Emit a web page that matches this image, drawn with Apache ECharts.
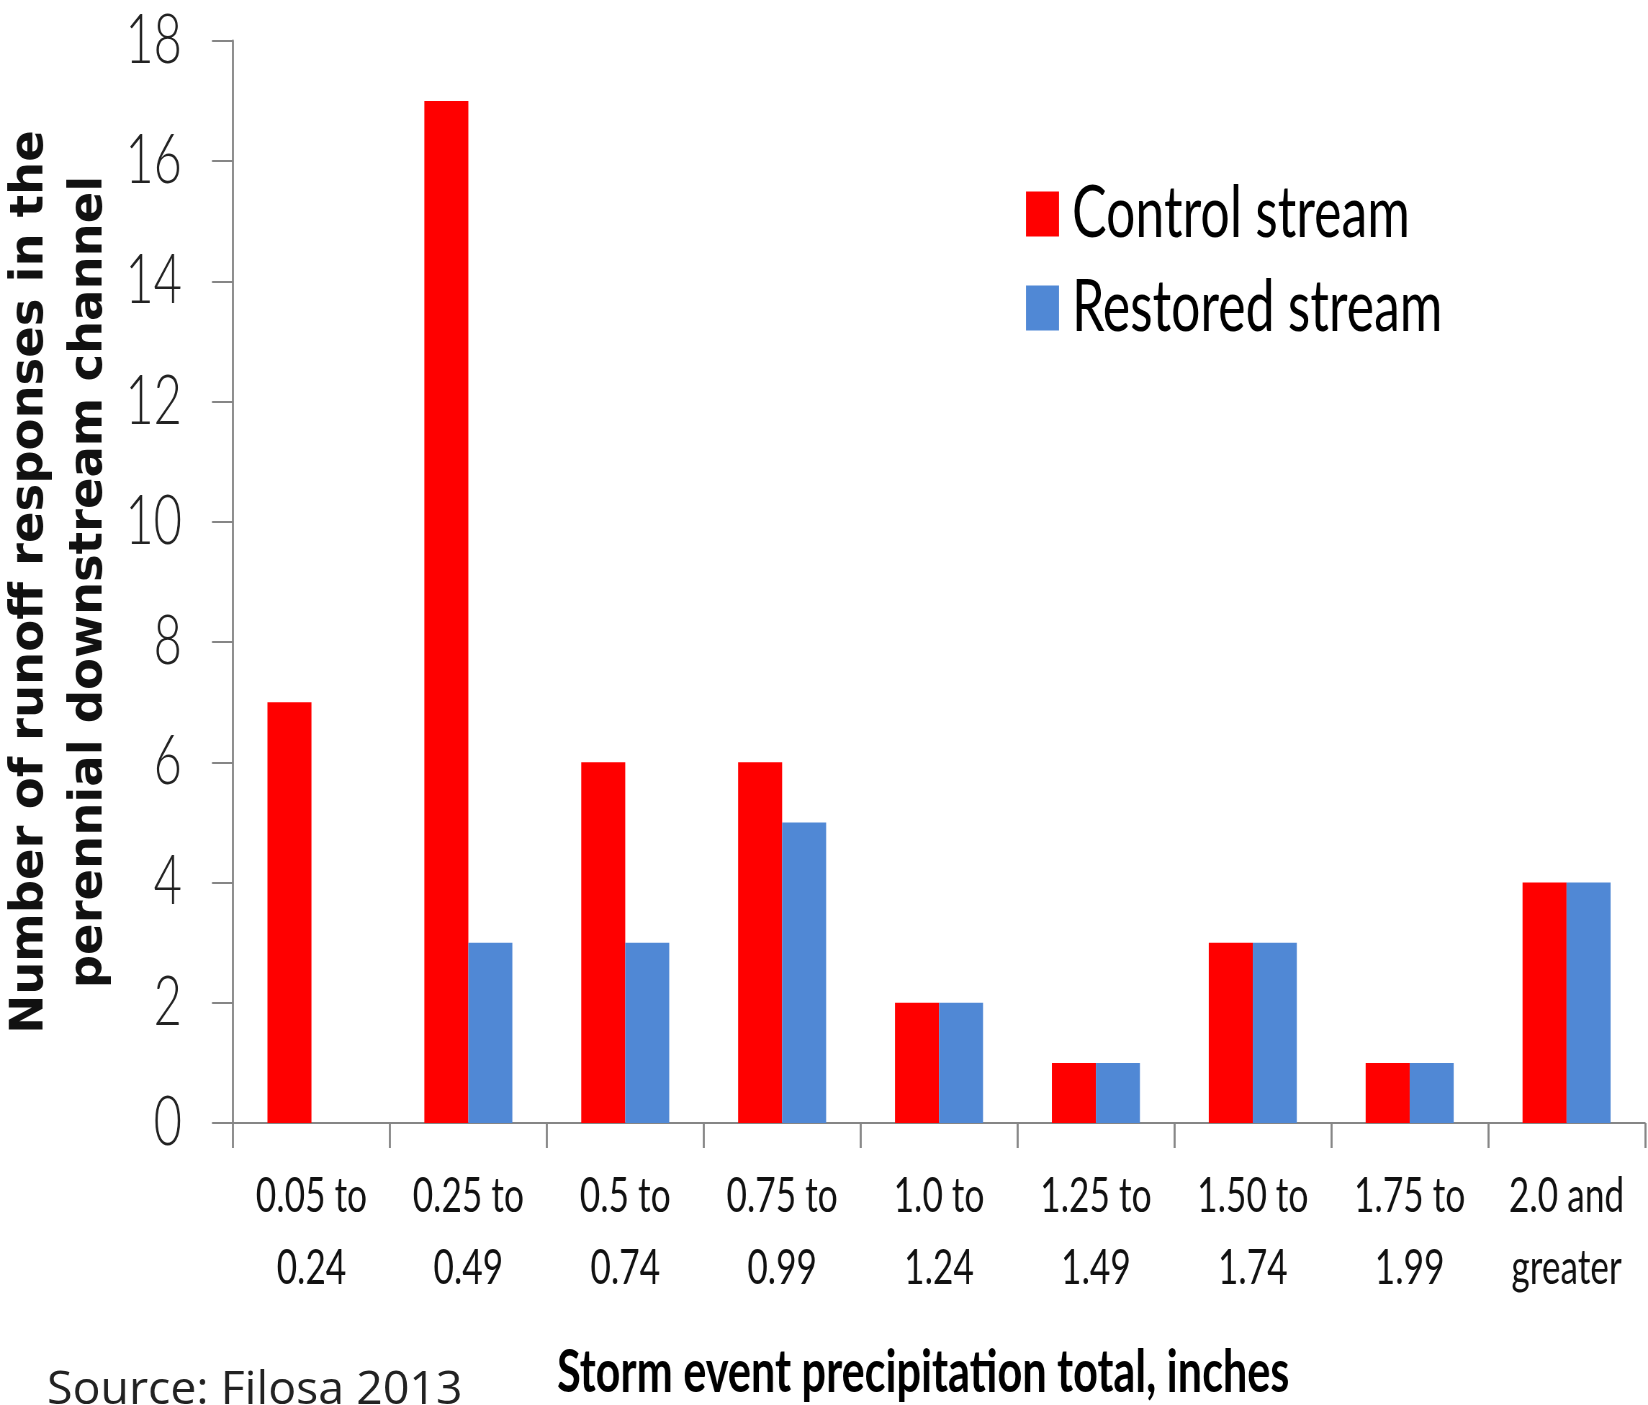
<!DOCTYPE html>
<html>
<head>
<meta charset="utf-8">
<script src="https://cdn.jsdelivr.net/npm/echarts@6/dist/echarts.min.js"></script>
<style>
html,body{margin:0;padding:0;background:#fff;overflow:hidden;}
#wrap{width:1648px;height:1405px;overflow:hidden;position:relative;}
#chart{width:2289px;height:1405px;transform:scaleX(0.71996);transform-origin:0 0;position:absolute;left:0;top:0;}
</style>
</head>
<body>
<div id="wrap"><div id="chart"></div></div>
<script>
const categories = ['0.05 to\n0.24','0.25 to\n0.49','0.5 to\n0.74','0.75 to\n0.99','1.0 to\n1.24','1.25 to\n1.49','1.50 to\n1.74','1.75 to\n1.99','2.0 and\ngreater'];
const controlStream = [7, 17, 6, 6, 2, 1, 3, 1, 4];
const restoredStream = [0, 3, 3, 5, 2, 1, 3, 1, 4];
const yTicks = {min: 0, max: 18, interval: 2};
const yTitle = 'Number of runoff responses in the\nperennial downstream channel';
const xTitle = 'Storm event precipitation total, inches';
const sourceNote = 'Source: Filosa 2013';

// the drawing is squeezed horizontally by S (CSS), like the reference
const S = 0.71996;
const px = v => v / S;   // screen x-size -> pre-squeeze size

const font = "Lato, 'Open Sans', sans-serif";
const chart = echarts.init(document.getElementById('chart'), null, {renderer: 'canvas'});
chart.setOption({
  backgroundColor: '#ffffff',
  animation: false,
  legend: {
    orient: 'vertical',
    left: px(1026),
    top: 178,
    padding: 0,
    itemWidth: px(33),
    itemHeight: 45,
    itemGap: 22,
    icon: 'rect',
    textStyle: {fontFamily: font, fontSize: 72, lineHeight: 62, color: '#000000', padding: [0, 0, 0, 13]},
    data: ['Control stream', 'Restored stream']
  },
  grid: {left: px(233), right: px(3), top: 41, bottom: 282, containLabel: false, outerBoundsMode: 'none'},
  xAxis: {
    type: 'category',
    data: categories,
    boundaryGap: true,
    name: xTitle,
    nameLocation: 'middle',
    nameGap: 220,
    nameTextStyle: {fontFamily: font, fontSize: 60, fontWeight: 'bold', color: '#000000', padding: [0, 44, 0, 0]},
    axisLine: {show: true, lineStyle: {color: '#868686', width: 2}},
    axisTick: {show: true, length: 25, interval: 0, alignWithLabel: false, lineStyle: {color: '#868686', width: px(2)}},
    axisLabel: {interval: 0, margin: 37, fontFamily: font, fontSize: 49, lineHeight: 72, color: '#111111'},
    splitLine: {show: false}
  },
  yAxis: {
    type: 'value',
    min: yTicks.min,
    max: yTicks.max,
    interval: yTicks.interval,
    axisLine: {show: true, lineStyle: {color: '#868686', width: px(2)}},
    axisTick: {show: true, length: px(21), lineStyle: {color: '#868686', width: 2}},
    axisLabel: {margin: px(51), fontFamily: font, fontWeight: 300, fontSize: 68, color: '#222222'},
    splitLine: {show: false}
  },
  graphic: [
    {
      type: 'text',
      x: px(60),
      y: 582,
      rotation: Math.PI / 2,
      scaleY: 1 / S,
      style: {
        text: yTitle,
        align: 'center',
        verticalAlign: 'middle',
        fontFamily: "'DejaVu Sans', sans-serif",
        fontWeight: 'bold',
        fontSize: 46.5,
        lineHeight: 59,
        fill: '#111111'
      }
    },
    {
      type: 'text',
      x: px(47),
      y: 1367,
      scaleX: 1 / S,
      style: {
        text: sourceNote,
        align: 'left',
        verticalAlign: 'top',
        fontFamily: "'Open Sans', sans-serif",
        fontSize: 46.5,
        fill: '#222222'
      }
    }
  ],
  series: [
    {
      name: 'Control stream',
      type: 'bar',
      data: controlStream,
      barWidth: px(44),
      barGap: '0%',
      itemStyle: {color: '#FF0000'}
    },
    {
      name: 'Restored stream',
      type: 'bar',
      data: restoredStream,
      barWidth: px(44),
      barGap: '0%',
      itemStyle: {color: '#5088D5'}
    }
  ]
});
</script>
</body>
</html>
